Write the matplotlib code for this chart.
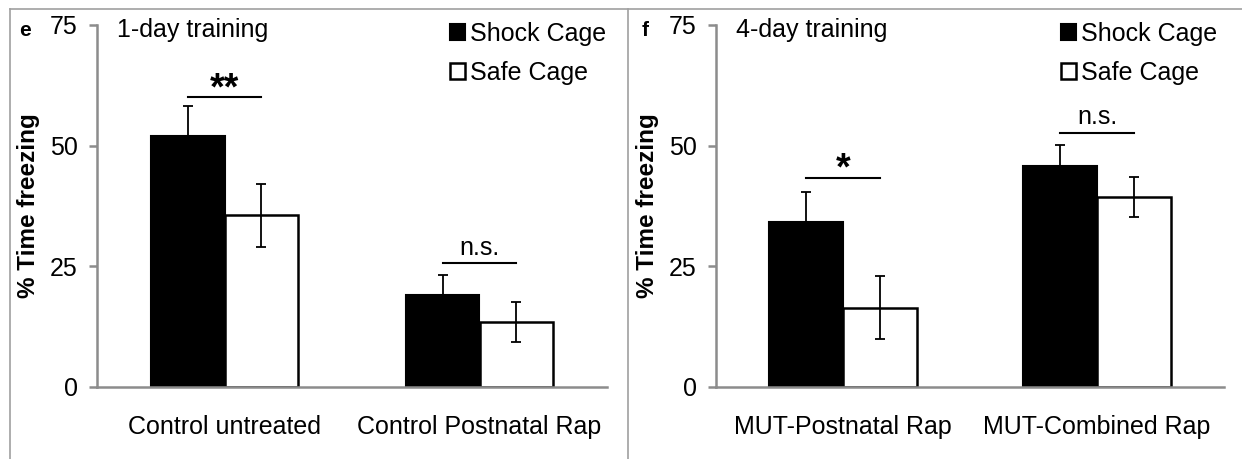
import matplotlib.pyplot as plt
import numpy as np
from matplotlib.lines import Line2D
from matplotlib.patches import Patch

plt.rcParams['font.family'] = ['Liberation Sans', 'DejaVu Sans']

# panel e : 1-day training
groups_e = ['Control untreated', 'Control Postnatal Rap']
shock_e = [52.0, 19.0]
shock_e_err = [6.3, 4.2]
safe_e = [35.6, 13.5]
safe_e_err = [6.5, 4.1]
sig_e = ['**', 'n.s.']
sig_e_y = [60.0, 25.7]

# panel f : 4-day training
groups_f = ['MUT-Postnatal Rap', 'MUT-Combined Rap']
shock_f = [34.2, 45.8]
shock_f_err = [6.1, 4.4]
safe_f = [16.4, 39.4]
safe_f_err = [6.5, 4.2]
sig_f = ['*', 'n.s.']
sig_f_y = [43.3, 52.7]

yticks = [0, 25, 50, 75]
axcol = '#8c8c8c'
w = 0.29

fig = plt.figure(figsize=(12.42, 4.59), dpi=100)
ax1 = fig.add_axes([97/1242, 72/459, 510/1242, 362/459])
ax2 = fig.add_axes([716/1242, 72/459, 508/1242, 362/459])


def panel(ax, groups, shock, shock_err, safe, safe_err, sig, sig_y, title, legx):
    x = np.arange(len(groups))
    ax.bar(x - w/2, shock, w, color='black', edgecolor='black', linewidth=1.5, zorder=2)
    ax.bar(x + w/2, safe, w, color='white', edgecolor='black', linewidth=1.8, zorder=2)
    ax.errorbar(x - w/2, shock, yerr=shock_err, fmt='none', ecolor='black',
                elinewidth=1.3, capsize=3.5, capthick=1.3, zorder=3)
    ax.errorbar(x + w/2, safe, yerr=safe_err, fmt='none', ecolor='black',
                elinewidth=1.3, capsize=3.5, capthick=1.3, zorder=3)
    for i in range(len(groups)):
        ax.plot([x[i] - w/2, x[i] + w/2], [sig_y[i], sig_y[i]], color='black', lw=1.5)
        if sig[i] == 'n.s.':
            ax.text(x[i], sig_y[i] + 1.7, sig[i], ha='center', va='baseline', fontsize=18)
        else:
            ax.text(x[i], sig_y[i] - 0.4, sig[i], ha='center', va='baseline',
                    fontsize=27, fontweight='bold')
    ax.set_xlim(-0.5, 1.5)
    ax.set_ylim(0, 75)
    ax.set_yticks(yticks)
    ax.set_xticks(x)
    ax.set_xticklabels(groups)
    for s in ['top', 'right']:
        ax.spines[s].set_visible(False)
    for s in ['left', 'bottom']:
        ax.spines[s].set_color(axcol)
        ax.spines[s].set_linewidth(1.8)
    ax.spines['left'].set_zorder(4)
    ax.tick_params(axis='y', direction='out', length=6, width=1.8, color=axcol,
                   labelsize=18, pad=8)
    ax.tick_params(axis='x', length=0, labelsize=18, pad=20)
    ax.set_ylabel('% Time freezing', fontsize=17.5, fontweight='bold')
    ax.yaxis.set_label_coords(-0.112, 0.5)
    ax.text(0.04, 0.986, title, transform=ax.transAxes, ha='left', va='center', fontsize=18)
    handles = [Patch(facecolor='black', edgecolor='black', linewidth=1.5),
               Patch(facecolor='white', edgecolor='black', linewidth=1.8)]
    ax.legend(handles, ['Shock Cage', 'Safe Cage'], loc='upper left',
              bbox_to_anchor=(legx, 1.008), frameon=False, fontsize=18,
              handlelength=0.62, handleheight=0.62, handletextpad=0.2,
              labelspacing=0.58, borderaxespad=0, borderpad=0)


panel(ax1, groups_e, shock_e, shock_e_err, safe_e, safe_e_err, sig_e, sig_e_y,
      '1-day training', 0.692)
panel(ax2, groups_f, shock_f, shock_f_err, safe_f, safe_f_err, sig_f, sig_f_y,
      '4-day training', 0.679)

fig.text(25/1242, 1 - 30/459, 'e', fontsize=15, fontweight='bold', ha='center', va='center')
fig.text(645/1242, 1 - 30/459, 'f', fontsize=15, fontweight='bold', ha='center', va='center')

# frame lines around the panels
bc = '#a0a0a0'
fig.add_artist(Line2D([10/1242, 1], [1 - 9/459, 1 - 9/459], color=bc, lw=1.2))
fig.add_artist(Line2D([10/1242, 10/1242], [0, 1 - 9/459], color=bc, lw=1.2))
fig.add_artist(Line2D([628/1242, 628/1242], [0, 1 - 9/459], color=bc, lw=1.2))

fig.savefig('out.png', dpi=100)
